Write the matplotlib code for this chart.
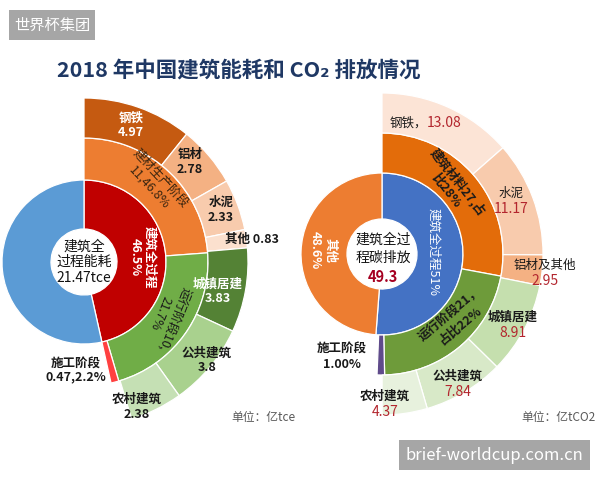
import numpy as np
import matplotlib
matplotlib.use("Agg")
import matplotlib.pyplot as plt
from matplotlib.patches import Rectangle

plt.rcParams['font.family'] = ['Noto Sans CJK SC', 'DejaVu Sans']

# ---------------- data ----------------
# left: building energy consumption (亿tce)
left_total = 21.47
left_share = [46.5, 53.5]                 # 建筑全过程 %, rest %
left_stage_names = ["建材生产阶段", "运行阶段", "施工阶段"]
left_stage_vals = [11, 10, 0.47]
left_leaf_names = ["钢铁", "铝材", "水泥", "其他", "城镇居建", "公共建筑", "农村建筑"]
left_leaf_vals = [4.97, 2.78, 2.33, 0.83, 3.83, 3.8, 2.38]

# right: building CO2 emissions (亿tCO2)
right_total = 49.3
right_share = [51, 48.6]                  # 建筑全过程 %, 其他 %
right_stage_names = ["建筑材料", "运行阶段", "施工阶段"]
right_stage_vals = [27, 21]
right_construction_pct = 1.00
right_leaf_names = ["钢铁", "水泥", "铝材及其他", "城镇居建", "公共建筑", "农村建筑"]
right_leaf_vals = [13.08, 11.17, 2.95, 8.91, 7.84, 4.37]

# ---------------- figure ----------------
W, H = 600, 480
fig = plt.figure(figsize=(6, 4.8), dpi=100)
ax = fig.add_axes([0, 0, 1, 1])


def Y(py):
    return H - py


def ring(values, colors, center, r_out, r_in, full):
    fr = [v / full for v in values]
    cols = list(colors)
    rest = 1 - sum(fr)
    if rest > 1e-9:
        fr.append(rest)
        cols.append('none')
    wedges, _ = ax.pie(fr, colors=cols, radius=r_out, center=center, startangle=90,
                       counterclock=False, normalize=False, frame=True,
                       wedgeprops=dict(width=r_out - r_in, edgecolor='white', linewidth=0.9))
    if rest > 1e-9:
        wedges[-1].set_visible(False)
    return wedges


# left sunburst
cL = (84, Y(262))
fullL = left_total / (left_share[0] / 100)
ring(left_share, ['#C00000', '#5B9BD5'], cL, 82, 33, sum(left_share))
ring(left_stage_vals, ['#ED7D31', '#70AD47', '#FF4040'], cL, 124, 82, fullL)
ring(left_leaf_vals, ['#C55A11', '#F4B183', '#F8CBAD', '#FBE0CE',
                      '#548235', '#A9D18E', '#C5E0B4'], cL, 164, 124, fullL)

# right sunburst
cR = (382, Y(254))
fullR = right_total / (right_share[0] / 100)
ring(right_share, ['#4472C4', '#ED7D31'], cR, 81, 35, sum(right_share))
ring(right_stage_vals + [right_construction_pct / 100 * fullR],
     ['#E36C0A', '#6E9B3A', '#5F4B8B'], cR, 121, 81, fullR)
ring(right_leaf_vals, ['#FCE4D6', '#F8CBAD', '#F4B183',
                       '#C5DFAE', '#D8E9C8', '#E7F1DD'], cR, 161, 121, fullR)

ax.set_xlim(0, W)
ax.set_ylim(0, H)
ax.set_aspect('equal')
ax.axis('off')


def T(px, py, s, size=9, color='#1a1a1a', weight='normal', rot=0, **kw):
    ax.text(px, Y(py), s, fontsize=size, color=color, fontweight=weight,
            rotation=rot, rotation_mode='anchor', ha=kw.pop('ha', 'center'),
            va=kw.pop('va', 'center'), multialignment='center', linespacing=1.15, **kw)


# title
T(239, 70, "2018 年中国建筑能耗和 CO₂ 排放情况", size=15.5, color='#1F3864', weight='bold')

# ---- left labels ----
T(84, 262, "建筑全\n过程能耗\n21.47tce", size=10, color='#111111')
T(131, 125, f"{left_leaf_names[0]}\n{left_leaf_vals[0]}", color='white', weight='bold')
T(190, 162, f"{left_leaf_names[1]}\n{left_leaf_vals[1]}", weight='bold')
T(221, 210, f"{left_leaf_names[2]}\n{left_leaf_vals[2]}", weight='bold')
T(252, 239, f"{left_leaf_names[3]} {left_leaf_vals[3]}", weight='bold')
T(218, 291, f"{left_leaf_names[4]}\n{left_leaf_vals[4]}", color='white', weight='bold')
T(207, 360, f"{left_leaf_names[5]}\n{left_leaf_vals[5]}", weight='bold')
T(137, 407, f"{left_leaf_names[6]}\n{left_leaf_vals[6]}", weight='bold')
T(155, 183, f"{left_stage_names[0]}\n11,46.8%", color='#3A2510', rot=-47)
T(167, 316, f"{left_stage_names[1]}10,\n21.7%", color='#1a1a1a', rot=-112)
T(142, 257, "建筑全过程\n46.5%", color='white', weight='bold', rot=-90)
T(76, 370, f"{left_stage_names[2]}\n0.47,2.2%", weight='bold')
T(263, 417, "单位：亿tce", size=8.5, color='#595959')

# ---- right labels ----
T(383, 240, "建筑全过", size=10, color='#111111')
T(383, 258, "程碳排放", size=10, color='#111111')
T(383, 277, f"{right_total}", size=10.5, color='#A50021', weight='bold')
red = '#B3262E'
T(427, 123, f"{right_leaf_names[0]}，", ha='right')
T(427, 123, f"{right_leaf_vals[0]}", color=red, size=10, ha='left')
T(511, 193, right_leaf_names[1])
T(511, 209, f"{right_leaf_vals[1]}", color=red, size=10)
T(545, 265, right_leaf_names[2])
T(545, 281, f"{right_leaf_vals[2]}", color=red, size=10)
T(513, 317, right_leaf_names[3], weight='bold')
T(513, 333, f"{right_leaf_vals[3]}", color=red, size=10)
T(458, 376, right_leaf_names[4], weight='bold')
T(458, 392, f"{right_leaf_vals[4]}", color=red, size=10)
T(385, 396, right_leaf_names[5], weight='bold')
T(385, 412, f"{right_leaf_vals[5]}", color=red, size=10)
T(342, 348, right_stage_names[2], weight='bold')
T(342, 364, f"{right_construction_pct:.2f}%", weight='bold')
T(452, 186, f"{right_stage_names[0]}27,占\n比28%", color='#1a1a1a', weight='bold', rot=-52)
T(455, 320, f"{right_stage_names[1]}21，\n占比22%", color='#1a1a1a', weight='bold', rot=40)
T(433, 252, "建筑全过程51%", color='white', rot=-90)
T(323, 250, "其他\n48.6%", color='white', weight='bold', rot=-90)
T(558, 417, "单位：亿tCO2", size=8.5, color='#595959')

# ---- watermark boxes ----
ax.add_patch(Rectangle((9, Y(40)), 86, 30, facecolor='#A6A6A6', edgecolor='none'))
T(52, 25, "世界杯集团", size=11, color='white')
ax.add_patch(Rectangle((399, Y(470)), 191, 30, facecolor='#A6A6A6', edgecolor='none'))
T(494, 455, "brief-worldcup.com.cn", size=12, color='white')

fig.savefig("out.png", dpi=100)
